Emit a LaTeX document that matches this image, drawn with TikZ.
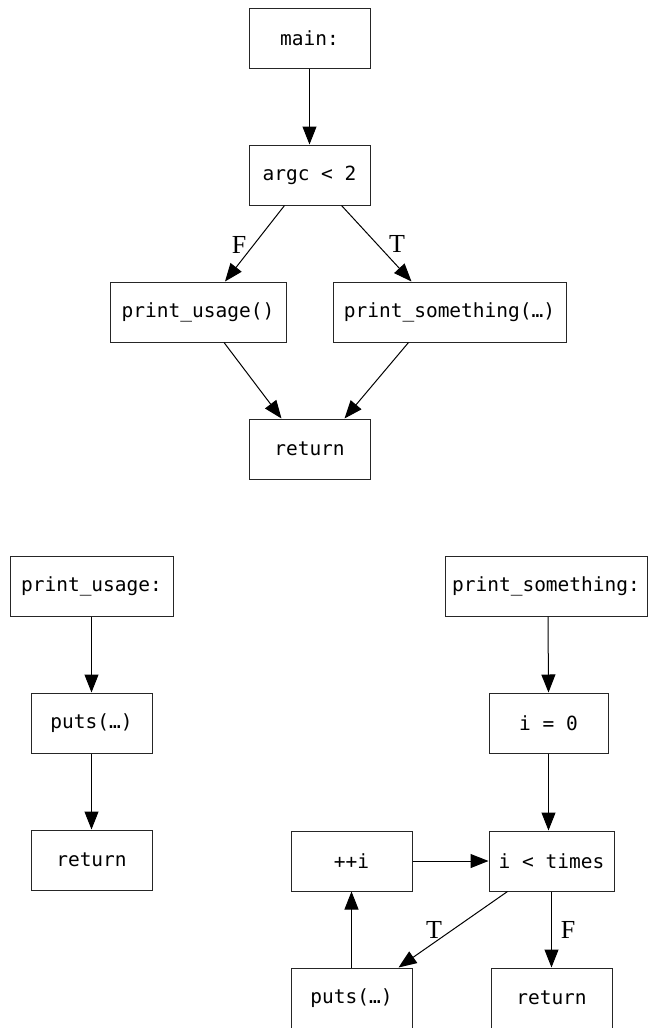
\documentclass[tikz,border=0pt]{standalone}
\usepackage{fontspec}
\setmonofont{DejaVu Sans Mono}
\newfontfamily\lblfont{Liberation Serif}
\usetikzlibrary{arrows.meta}
\begin{document}
\begin{tikzpicture}[x=1pt,y=-1pt,
  box/.style={draw=black!85,line width=1pt,inner sep=0pt,minimum height=60pt,
    font=\ttfamily\fontsize{19.5}{22}\selectfont},
  edge/.style={draw=black,line width=1pt,-{Triangle[length=18pt,width=14pt]}},
  lbl/.style={font=\lblfont\fontsize{26}{28}\selectfont,inner sep=0pt}]
\useasboundingbox (0,0) rectangle (648,1028);
% top graph
\node[box,minimum width=121pt] (main) at (309.5,38) {main:};
\node[box,minimum width=121pt] (cond) at (309.5,175) {argc < 2};
\node[box,minimum width=176pt] (pu) at (198,312) {print\_usage()};
\node[box,minimum width=233pt] (ps) at (449.5,312) {print\_something(…)};
\node[box,minimum width=121pt] (ret) at (309.5,449) {return};
\draw[edge] (main) -- (cond);
\draw[edge] ([xshift=-25pt]cond.south) -- ([xshift=27pt]pu.north);
\draw[edge] ([xshift=32pt]cond.south) -- ([xshift=-38pt]ps.north);
\draw[edge] ([xshift=26pt]pu.south) -- ([xshift=-28pt]ret.north);
\draw[edge] ([xshift=-41pt]ps.south) -- ([xshift=35pt]ret.north);
\node[lbl] (lf) at (239,245) {F};
\node[lbl] (lt) at (397,244) {T};
% print_usage
\node[box,minimum width=163pt] (pud) at (91.5,586) {print\_usage:};
\node[box,minimum width=121pt] (puts1) at (91.5,723) {puts(…)};
\node[box,minimum width=121pt] (ret1) at (91.5,860) {return};
\draw[edge] (pud) -- (puts1);
\draw[edge] (puts1) -- (ret1);
% print_something
\node[box,minimum width=202pt] (psd) at (546,586) {print\_something:};
\node[box,minimum width=119pt] (init) at (548.5,723) {i = 0};
\node[box,minimum width=125pt] (loop) at (551.5,861) {i < times};
\node[box,minimum width=121pt] (inc) at (351.5,861) {++i};
\node[box,minimum width=121pt] (puts2) at (351.5,998) {puts(…)};
\node[box,minimum width=121pt] (ret2) at (551.5,998) {return};
\draw[edge] ([xshift=2pt]psd.south) -- (init.north);
\draw[edge] (init) -- ([xshift=-3pt]loop.north);
\draw[edge] (inc) -- (loop);
\draw[edge] ([xshift=-44pt]loop.south) -- ([xshift=47pt]puts2.north);
\draw[edge] (loop) -- (ret2);
\draw[edge] (puts2) -- (inc);
\node[lbl] (lt2) at (434,930) {T};
\node[lbl] (lf2) at (568,930) {F};
\end{tikzpicture}
\end{document}
